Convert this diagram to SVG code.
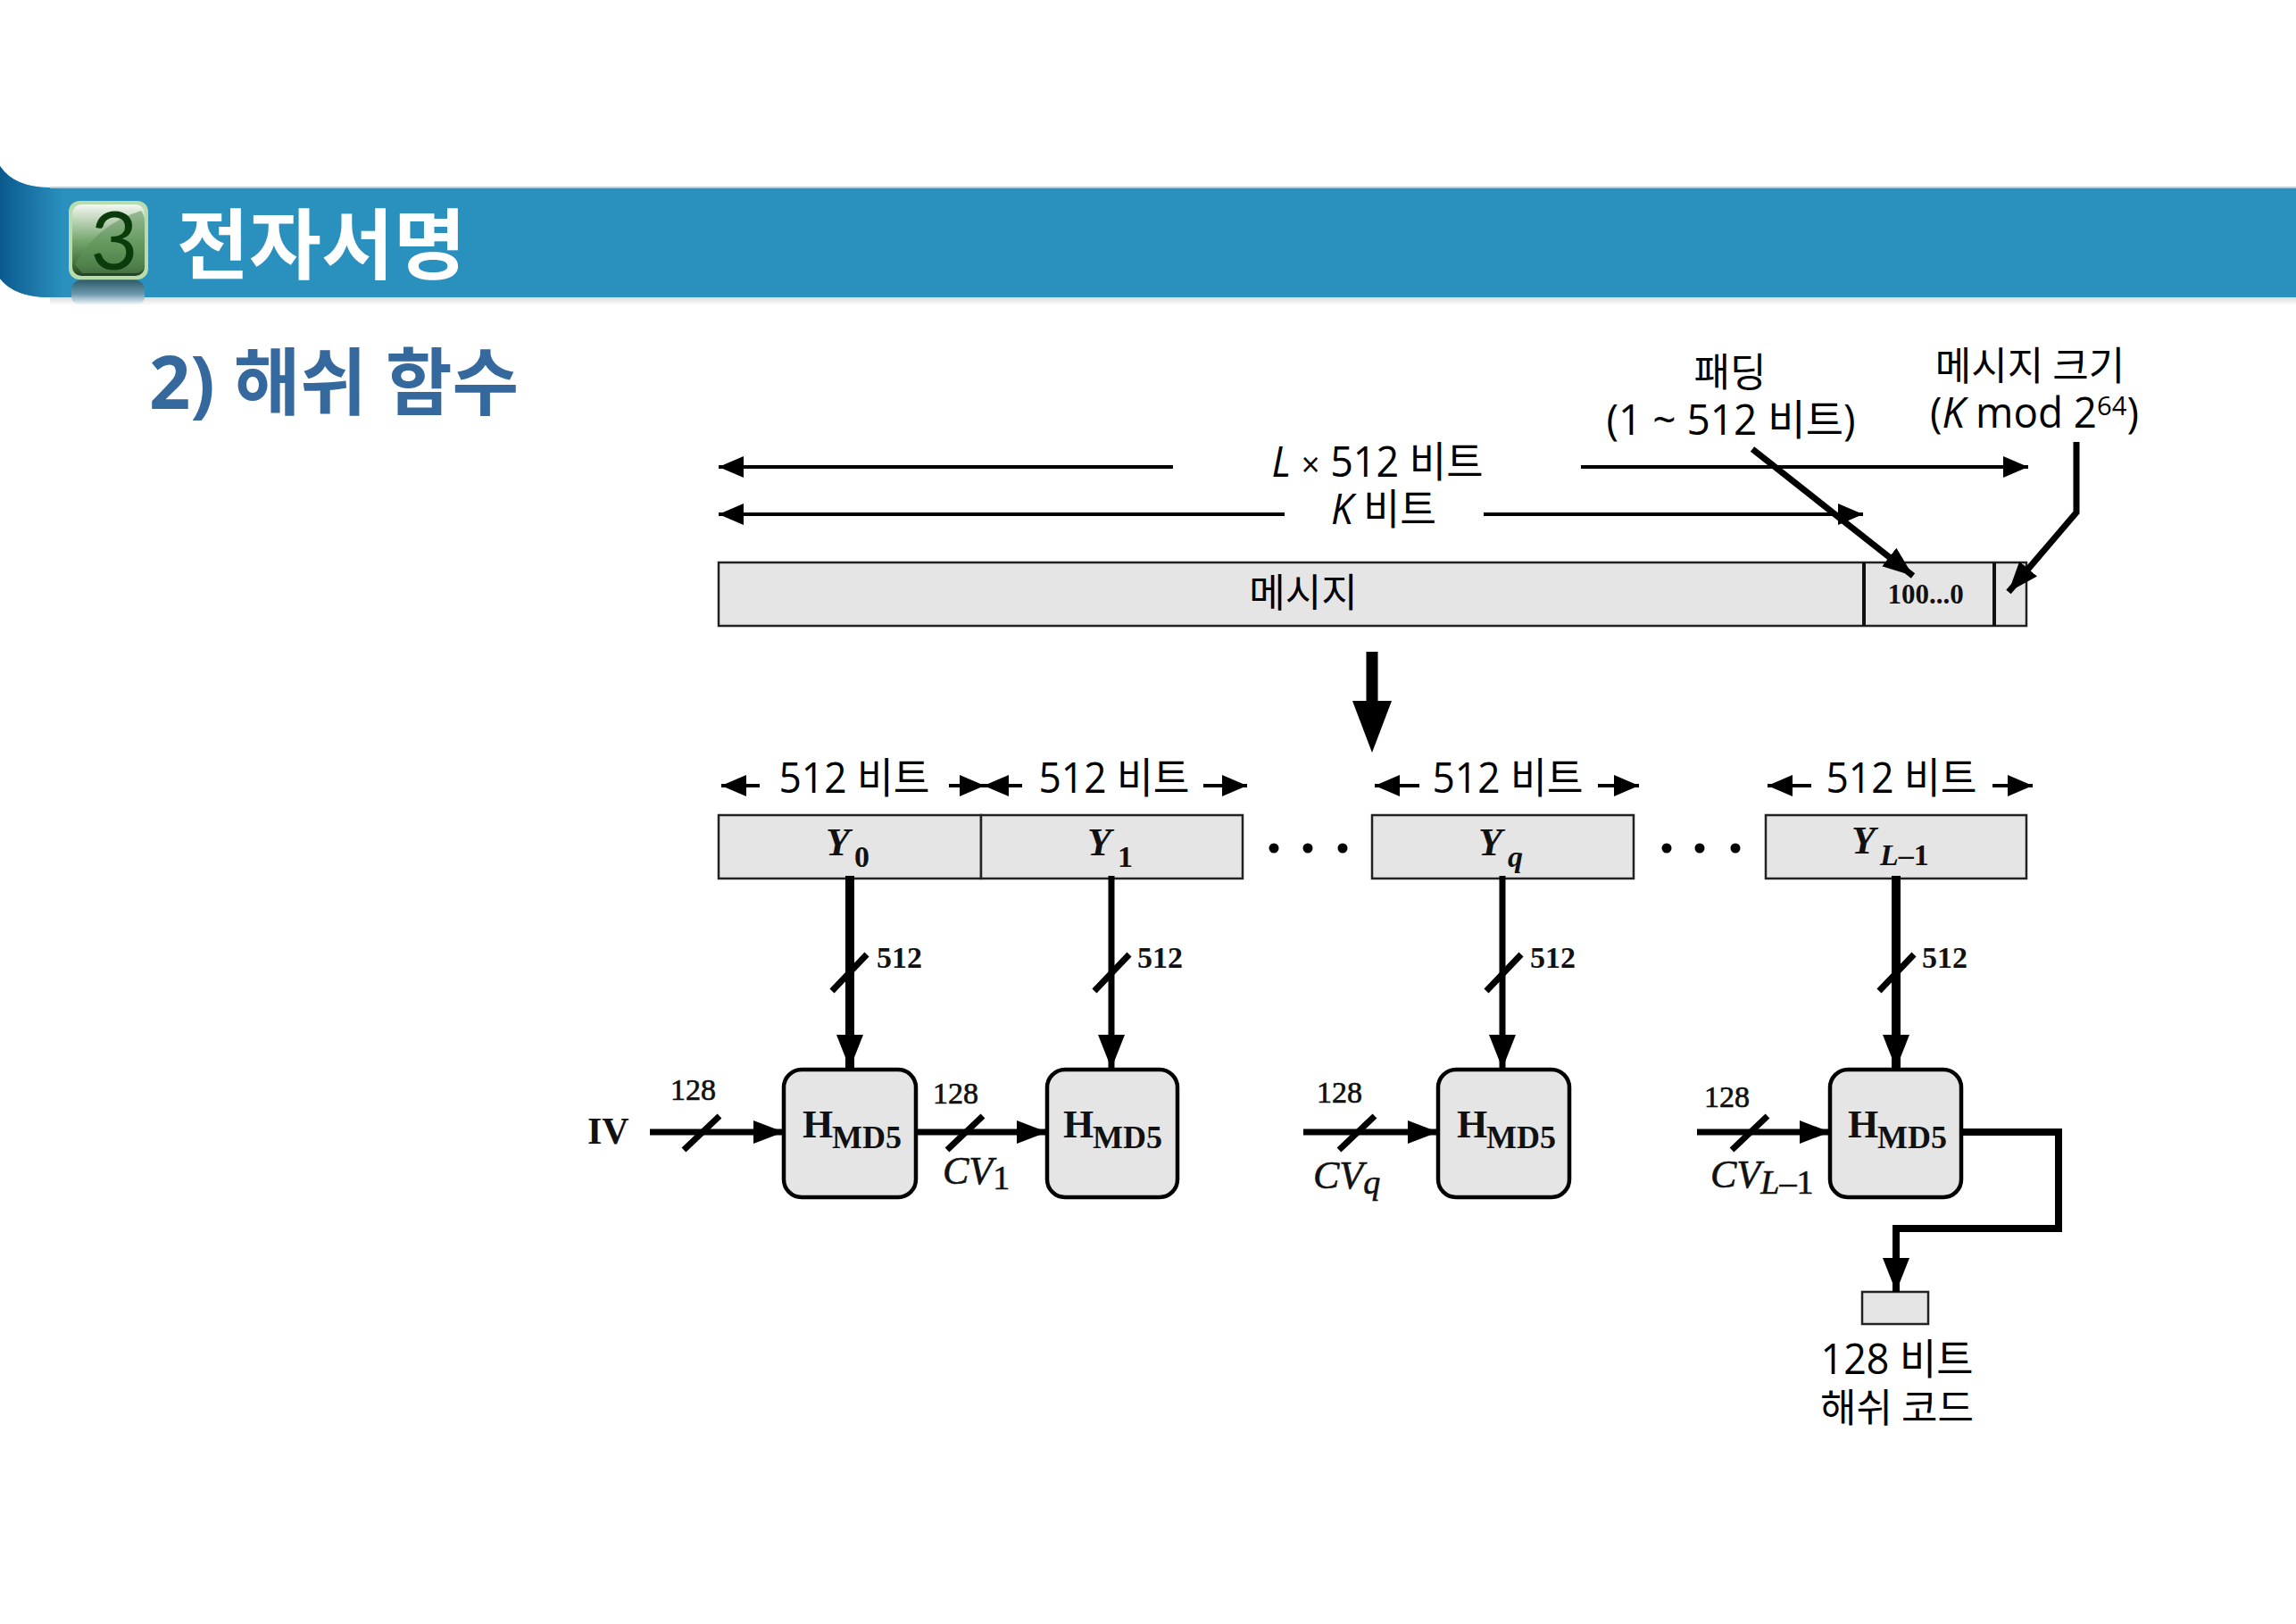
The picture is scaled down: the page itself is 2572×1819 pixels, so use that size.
<svg xmlns="http://www.w3.org/2000/svg" width="2572" height="1819" viewBox="0 0 2572 1819">
<style>
.k{font-family:"Open Sans","Noto Sans CJK KR",sans-serif;font-size:47px;fill:#000}
.ks{font-family:"Noto Sans CJK KR","Open Sans",sans-serif;font-size:44px;fill:#000}
.s{font-family:"Liberation Serif",serif;font-weight:bold;fill:#111}
.si{font-family:"Liberation Serif",serif;font-style:italic;fill:#111;stroke:#111;stroke-width:.6}
.n{font-size:34px}
.m{font-weight:normal;stroke:#111;stroke-width:.7}
.box{fill:#e5e5e5;stroke:#222;stroke-width:2.5}
.hb{fill:#e5e5e5;stroke:#000;stroke-width:4.5}
.c{fill:none;stroke:#000;stroke-linejoin:miter}
.w3{stroke-width:4;marker-end:url(#a)}
.w5{stroke-width:7;marker-end:url(#b)}
.w9{stroke-width:10;marker-end:url(#c)}
.w6{stroke-width:7;marker-end:url(#c)}
.sl{stroke-width:7}
</style>
<defs>
<linearGradient id="bandL" x1="0" x2="1" y1="0" y2="0"><stop offset="0" stop-color="#0a5a8e"/><stop offset="1" stop-color="#2a90be"/></linearGradient>
<linearGradient id="shadow" x1="0" x2="0" y1="0" y2="1"><stop offset="0" stop-color="#dcdcdc"/><stop offset="1" stop-color="#fff"/></linearGradient>
<linearGradient id="ic" x1="0" x2="0" y1="0" y2="1"><stop offset="0" stop-color="#f4f7f2"/><stop offset=".5" stop-color="#78a870"/><stop offset=".85" stop-color="#3e6f3a"/><stop offset="1" stop-color="#203f20"/></linearGradient>
<linearGradient id="ir" x1="0" x2="0" y1="0" y2="1"><stop offset="0" stop-color="#2f5d68"/><stop offset=".55" stop-color="#6b98ad"/><stop offset="1" stop-color="#fff"/></linearGradient>
<marker id="a" markerUnits="userSpaceOnUse" markerWidth="34" markerHeight="28" refX="28" refY="12" orient="auto"><path d="M0 0L28 12L0 24Z"/></marker>
<marker id="b" markerUnits="userSpaceOnUse" markerWidth="40" markerHeight="40" refX="34" refY="13" orient="auto"><path d="M0 0L34 13L0 26Z"/></marker>
<marker id="c" markerUnits="userSpaceOnUse" markerWidth="50" markerHeight="50" refX="38" refY="15" orient="auto"><path d="M0 0L38 15L0 30Z"/></marker>
</defs>
<g id="header">
<rect x="56" y="333" width="2516" height="9" fill="url(#shadow)"/>
<path d="M0 186Q16 210 56 210H2572V333H56Q16 333 0 312Z" fill="#2a90be"/>
<path d="M0 186Q16 210 56 210H70V333H56Q16 333 0 312Z" fill="url(#bandL)"/>
<rect x="56" y="209" width="2516" height="2" fill="#a9cfe3"/>
<g id="badge">
<rect x="80" y="314" width="82" height="28" rx="10" fill="url(#ir)"/>
<rect x="77" y="225" width="89" height="88" rx="12" fill="#b8dcae"/>
<rect x="81" y="229" width="81" height="80" rx="10" fill="url(#ic)"/>
<path d="M84 296Q108 252 158 236Q162 240 162 250V296Q162 306 150 306H92Z" fill="#5f9159" opacity=".55"/>
<text x="128" y="302" text-anchor="middle" font-family="Lato,Open Sans,sans-serif" font-size="92" fill="#0b3a0b">3</text>
</g>
<text x="198" y="306" font-family="Noto Sans CJK KR,sans-serif" font-weight="bold" font-size="86" fill="#fff" textLength="324" lengthAdjust="spacingAndGlyphs">전자서명</text>
</g>
<text id="subtitle" x="167" y="458" font-family="Open Sans,Noto Sans CJK KR,sans-serif" font-weight="bold" font-size="82" fill="#35689c" textLength="414" lengthAdjust="spacingAndGlyphs">2) 해쉬 함수</text>

<g id="message"><rect class="box" x="805" y="630" width="1465" height="71"/>
<path d="M2088 630V701M2234 630V701" stroke="#111" stroke-width="4" fill="none"/>
<text class="ks" x="1460" y="680" text-anchor="middle">메시지</text>
<text class="s" x="2157" y="676" text-anchor="middle" font-size="31">100...0</text></g>

<g id="blockY0"><rect class="box" x="805" y="913" width="294" height="71"/><text class="s" font-style="italic" x="925" y="958" font-size="44">Y</text><text class="s" x="957" y="971" font-size="34">0</text></g>
<g id="blockY1"><rect class="box" x="1099" y="913" width="293" height="71"/><text class="s" font-style="italic" x="1218" y="958" font-size="44">Y</text><text class="s" x="1252" y="971" font-size="34">1</text></g>
<g id="blockYq"><rect class="box" x="1537" y="913" width="293" height="71"/><text class="s" font-style="italic" x="1656" y="958" font-size="44">Y</text><text class="s" font-style="italic" x="1689" y="971" font-size="34">q</text></g>
<g id="blockYL"><rect class="box" x="1978" y="913" width="292" height="71"/><text class="s" font-style="italic" x="2074" y="956" font-size="44">Y</text><text class="s" x="2106" y="969" font-size="34"><tspan font-style="italic">L</tspan>–1</text></g>
<g id="dots" fill="#000"><circle cx="1427" cy="950" r="5.5"/><circle cx="1465" cy="950" r="5.5"/><circle cx="1504" cy="950" r="5.5"/><circle cx="1867" cy="950" r="5.5"/><circle cx="1904" cy="950" r="5.5"/><circle cx="1944" cy="950" r="5.5"/></g>

<g id="hmd1"><rect class="hb" x="878" y="1198" width="148" height="143" rx="20"/><text class="s" x="899" y="1274" font-size="44">H</text><text class="s" x="932" y="1286" font-size="36">MD5</text></g>
<g id="hmd2"><rect class="hb" x="1173" y="1198" width="146" height="143" rx="20"/><text class="s" x="1191" y="1274" font-size="44">H</text><text class="s" x="1224" y="1286" font-size="36">MD5</text></g>
<g id="hmd3"><rect class="hb" x="1611" y="1198" width="147" height="143" rx="20"/><text class="s" x="1632" y="1274" font-size="44">H</text><text class="s" x="1665" y="1286" font-size="36">MD5</text></g>
<g id="hmd4"><rect class="hb" x="2050" y="1198" width="147" height="143" rx="20"/><text class="s" x="2070" y="1274" font-size="44">H</text><text class="s" x="2103" y="1286" font-size="36">MD5</text></g>
<g id="output"><rect class="box" x="2086" y="1447" width="74" height="36"/></g>

<g id="connectors">
<path class="c w3" d="M1314 523H805"/><path class="c w3" d="M1771 523H2272"/>
<path class="c w3" d="M1439 576H805"/><path class="c w3" d="M1662 576H2087"/>
<path class="c w5" d="M1963 503L2143 645"/>
<path class="c w5" d="M2326 495V574L2250 663"/>
<path class="c" stroke-width="13" d="M1537 730V800"/><path d="M1515 785H1559L1537 843Z"/>
<g id="sizeArrows">
<path class="c w3" d="M851 880H808"/><path class="c w3" d="M1063 880H1103"/>
<path class="c w3" d="M1145 880H1102"/><path class="c w3" d="M1348 880H1397"/>
<path class="c w3" d="M1590 880H1540"/><path class="c w3" d="M1790 880H1836"/>
<path class="c w3" d="M2029 880H1980"/><path class="c w3" d="M2232 880H2277"/>
</g>
<path class="c w9" d="M952 981V1197"/>
<path class="c w6" d="M1245 981V1197"/>
<path class="c w6" d="M1683 981V1197"/>
<path class="c w9" d="M2124 981V1197"/>
<path class="c sl" d="M932 1110L971 1069M1226 1110L1265 1069M1665 1110L1704 1069M2105 1110L2144 1069"/>
<path class="c w5" d="M728 1268H878"/><path class="c w5" d="M1026 1268H1173"/><path class="c w5" d="M1460 1268H1611"/><path class="c w5" d="M1901 1268H2050"/>
<path class="c sl" d="M766 1288L806 1250M1061 1288L1101 1250M1500 1288L1540 1250M1940 1288L1980 1250"/>
<path class="c" style="stroke-width:8;marker-end:url(#c)" d="M2197 1268H2306V1376H2124V1447"/>
</g>

<g id="labels">
<text class="ks" x="1938" y="433" text-anchor="middle">패딩</text>
<text class="k" x="1939" y="487" text-anchor="middle" textLength="279" lengthAdjust="spacingAndGlyphs">(1 ~ 512 비트)</text>
<text class="ks" x="2274" y="426" text-anchor="middle">메시지 크기</text>
<text class="k" x="2279" y="479" text-anchor="middle" textLength="234" lengthAdjust="spacingAndGlyphs">(<tspan font-style="italic">K</tspan> mod 2<tspan font-size="30" dy="-14">64</tspan><tspan dy="14">)</tspan></text>
<text class="k" x="1543" y="534" text-anchor="middle" textLength="237" lengthAdjust="spacingAndGlyphs"><tspan font-style="italic">L</tspan> <tspan font-size="38">×</tspan> 512 비트</text>
<text class="k" x="1550" y="587" text-anchor="middle" textLength="118" lengthAdjust="spacingAndGlyphs"><tspan font-style="italic">K</tspan> 비트</text>
<text class="k" x="957" y="888" text-anchor="middle" textLength="169" lengthAdjust="spacingAndGlyphs">512 비트</text>
<text class="k" x="1248" y="888" text-anchor="middle" textLength="169" lengthAdjust="spacingAndGlyphs">512 비트</text>
<text class="k" x="1689" y="888" text-anchor="middle" textLength="169" lengthAdjust="spacingAndGlyphs">512 비트</text>
<text class="k" x="2130" y="888" text-anchor="middle" textLength="169" lengthAdjust="spacingAndGlyphs">512 비트</text>
<text class="s n" x="982" y="1084">512</text><text class="s n" x="1274" y="1084">512</text><text class="s n" x="1714" y="1084">512</text><text class="s n" x="2153" y="1084">512</text>
<text class="s" x="658" y="1281" font-size="42">IV</text>
<text class="s n m" x="751" y="1232">128</text><text class="s n m" x="1045" y="1236">128</text><text class="s n m" x="1475" y="1235">128</text><text class="s n m" x="1909" y="1240">128</text>
<text class="si" x="1056" y="1326" font-size="44">CV<tspan font-style="normal" font-size="38" dy="6">1</tspan></text>
<text class="si" x="1471" y="1331" font-size="44">CV<tspan font-size="38" dy="6">q</tspan></text>
<text class="si" x="1916" y="1330" font-size="44">CV<tspan font-size="38" dy="7">L</tspan><tspan font-style="normal" font-size="38">–1</tspan></text>
<text class="k" x="2125" y="1539" text-anchor="middle" textLength="171" lengthAdjust="spacingAndGlyphs">128 비트</text>
<text class="ks" x="2125" y="1593" text-anchor="middle">해쉬 코드</text>
</g>
</svg>
